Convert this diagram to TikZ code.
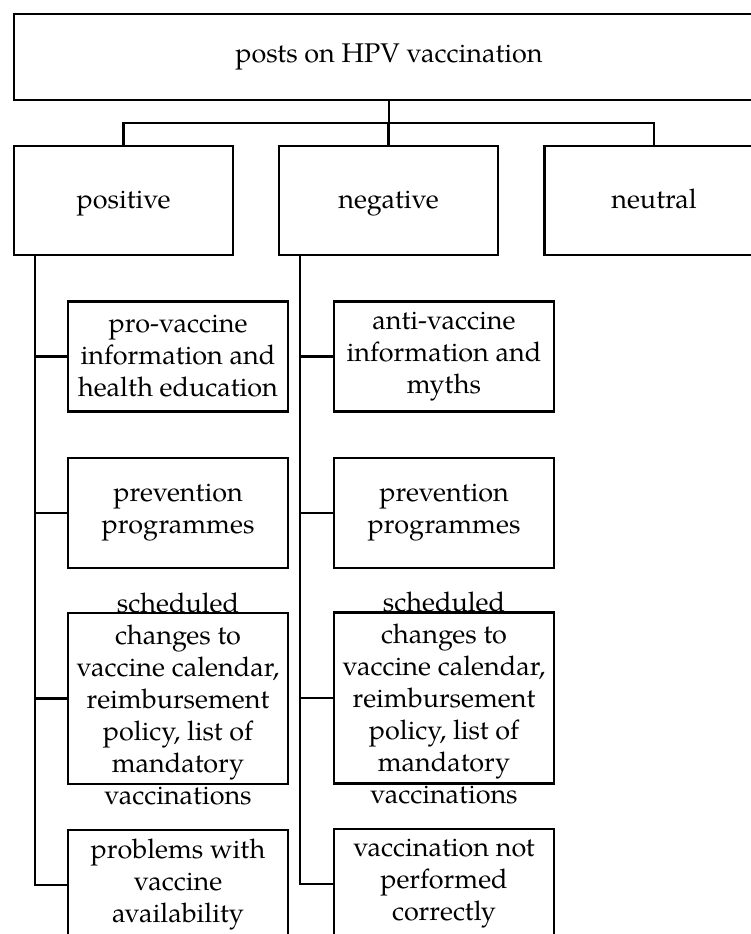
\documentclass[tikz,border=0pt]{standalone}
\usepackage{fontspec}
\setmainfont{TeX Gyre Pagella}
\begin{document}
\begin{tikzpicture}[x=1pt,y=-1pt,
  every node/.style={font=\fontsize{27}{32}\selectfont, align=center, inner sep=0pt},
  frame/.style={draw=black, line width=2.4pt, rectangle},
  topbox/.style={frame, minimum width=750pt, minimum height=86pt},
  catbox/.style={frame, minimum width=219pt, minimum height=109pt, text height=22pt, text depth=7pt},
  subbox/.style={frame, minimum width=220pt, minimum height=110pt},
  tallbox/.style={frame, minimum width=220pt, minimum height=171pt},
  link/.style={draw=black, line width=2.4pt, line cap=rect}
]
\clip (0,0) rectangle (751,934);
\fill[white] (0,0) rectangle (751,934);

% root
\node[topbox] (top) at (389,57) {posts on HPV vaccination};
% level 1
\node[catbox] (pos) at (123.5,200.5) {positive};
\node[catbox] (neg) at (388.5,200.5) {negative};
\node[catbox] (neu) at (654,200.5) {neutral};

\coordinate (bus) at (389,123);
\draw[link] (top.south) -- (top.south |- bus);
\draw[link] (pos.north) |- (bus) -| (neu.north);
\draw[link] (neg.north) -- (neg.north |- bus);

% positive column
\node[subbox] (p1) at (178,356.5) {pro-vaccine\\information and\\health education};
\node[subbox] (p2) at (178,513) {prevention\\programmes};
\node[tallbox] (p3) at (178,698.5) {};
\node (p3t) at (p3.center) {scheduled\\changes to\\vaccine calendar,\\reimbursement\\policy, list of\\mandatory\\vaccinations};
\node[subbox] (p4) at (178,885) {problems with\\vaccine\\availability};

% negative column
\node[subbox] (n1) at (444,356.5) {anti-vaccine\\information and\\myths};
\node[subbox] (n2) at (444,513) {prevention\\programmes};
\node[tallbox] (n3) at (444,698) {};
\node (n3t) at (n3.center) {scheduled\\changes to\\vaccine calendar,\\reimbursement\\policy, list of\\mandatory\\vaccinations};
\node[subbox] (n4) at (444,884) {vaccination not\\performed\\correctly};

% trunks
\coordinate (pt) at ([xshift=22pt]pos.south west);
\coordinate (nt) at ([xshift=22pt]neg.south west);
\draw[link] (pt) |- (p4.west);
\draw[link] (nt) |- (n4.west);
\foreach \b in {p1,p2,p3} \draw[link] (\b.west) -- (\b.west -| pt);
\foreach \b in {n1,n2,n3} \draw[link] (\b.west) -- (\b.west -| nt);
\end{tikzpicture}
\end{document}
